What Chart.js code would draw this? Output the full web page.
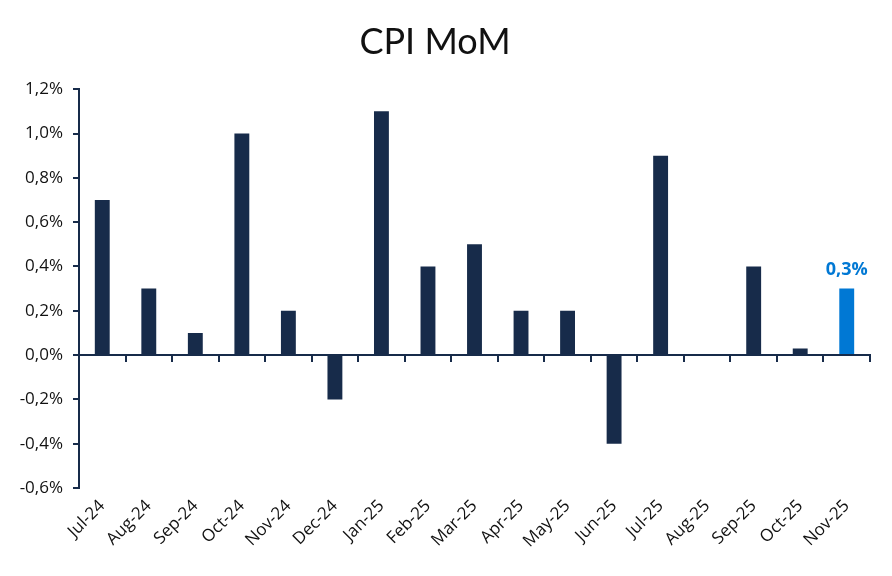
<!DOCTYPE html>
<html>
<head>
<meta charset="utf-8">
<script src="https://cdn.jsdelivr.net/npm/chart.js@4/dist/chart.umd.min.js"></script>
<style>
  html, body { margin: 0; padding: 0; background: #ffffff; }
  #wrap { width: 892px; height: 576px; }
</style>
</head>
<body>
<div id="wrap"><canvas id="chart-cpi"></canvas></div>
<script>
// data (percent, month over month)
var meses = ["Jul-24", "Aug-24", "Sep-24", "Oct-24", "Nov-24", "Dec-24", "Jan-25", "Feb-25",
    "Mar-25", "Apr-25", "May-25", "Jun-25", "Jul-25", "Aug-25", "Sep-25", "Oct-25", "Nov-25"];
var cpiMoM = [0.7, 0.3, 0.1, 1.0, 0.2, -0.2, 1.1, 0.4, 0.5, 0.2, 0.2, -0.4, 0.9, 0.0, 0.4, 0.03, 0.3];
var ticksY = [-0.6, -0.4, -0.2, 0.0, 0.2, 0.4, 0.6, 0.8, 1.0, 1.2];

var NAVY = "#172B4A";
var AZUL = "#0078D4";
var FUENTE = "'Open Sans', 'Noto Sans', sans-serif";

function fmtPct(v) {
    return v.toFixed(1).replace(".", ",") + "%";
}

// the last bar is highlighted and gets its value printed above it
var colores = cpiMoM.map(function (v, i) {
    return i === cpiMoM.length - 1 ? AZUL : NAVY;
});

var etiquetaUltimo = {
    id: "etiquetaUltimo",
    afterDatasetsDraw: function (chart) {
        var meta = chart.getDatasetMeta(0);
        var i = cpiMoM.length - 1;
        var bar = meta.data[i];
        var ctx = chart.ctx;
        ctx.save();
        ctx.fillStyle = AZUL;
        ctx.font = "bold 18px " + FUENTE;
        ctx.textAlign = "center";
        ctx.textBaseline = "alphabetic";
        ctx.fillText(fmtPct(cpiMoM[i]), bar.x, bar.y - 14);
        ctx.restore();
    }
};

new Chart(document.getElementById("chart-cpi"), {
    type: "bar",
    data: {
        labels: meses,
        datasets: [{
            label: "CPI MoM",
            data: cpiMoM,
            backgroundColor: colores,
            borderWidth: 0,
            categoryPercentage: 1,
            barPercentage: 0.32,
            xAxisID: "x"
        }]
    },
    options: {
        responsive: true,
        maintainAspectRatio: false,
        animation: false,
        layout: { padding: { left: 0, right: 22, top: 21, bottom: 14 } },
        plugins: {
            legend: { display: false },
            tooltip: { enabled: false },
            title: {
                display: true,
                text: "CPI MoM",
                color: "#111111",
                font: { family: "Lato, 'Open Sans', sans-serif", size: 36, weight: "normal" },
                padding: { top: 0, bottom: 25 }
            }
        },
        scales: {
            x: {
                type: "category",
                position: "bottom",
                offset: true,
                border: { display: false },
                grid: { display: false },
                ticks: {
                    color: "#111111",
                    font: { family: FUENTE, size: 17 },
                    minRotation: 45,
                    maxRotation: 45,
                    padding: 0
                },
                afterFit: function (scale) { scale.height = 74; }
            },
            x2: {
                type: "category",
                position: { y: 0 },
                offset: true,
                border: { display: true, color: NAVY, width: 2 },
                grid: {
                    display: true,
                    offset: true,
                    drawOnChartArea: false,
                    drawTicks: true,
                    tickLength: 6,
                    color: NAVY,
                    lineWidth: 2
                },
                ticks: { display: false }
            },
            y: {
                min: ticksY[0],
                max: ticksY[ticksY.length - 1],
                afterBuildTicks: function (scale) {
                    scale.ticks = ticksY.map(function (v) { return { value: v }; });
                },
                border: { display: true, color: NAVY, width: 2 },
                grid: {
                    drawOnChartArea: false,
                    drawTicks: true,
                    tickLength: 6,
                    color: NAVY,
                    lineWidth: 2
                },
                ticks: {
                    color: "#111111",
                    font: { family: FUENTE, size: 17 },
                    padding: 10,
                    callback: function (value) { return fmtPct(value); }
                },
                afterFit: function (scale) { scale.width = 79; }
            }
        }
    },
    plugins: [etiquetaUltimo]
});
</script>
</body>
</html>
